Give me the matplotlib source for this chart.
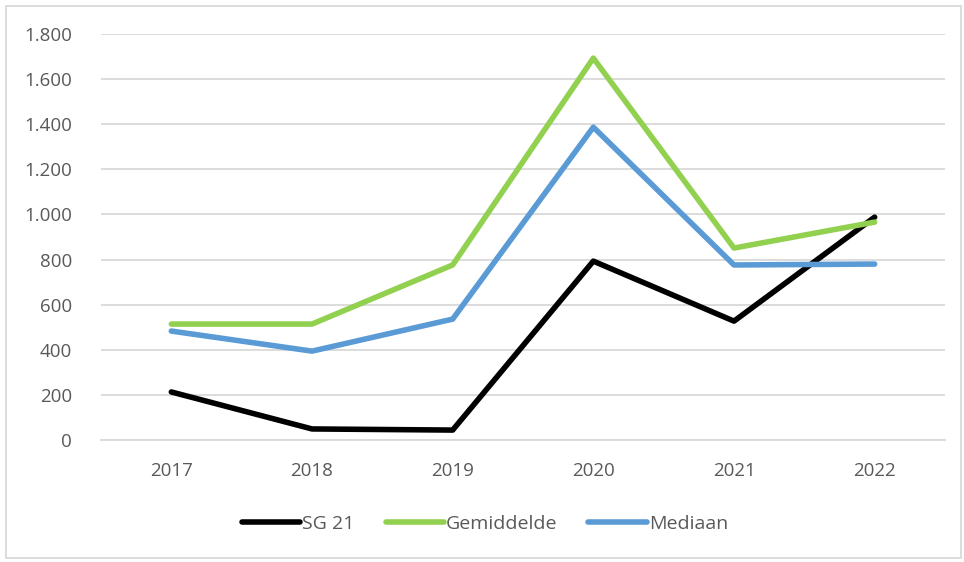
import matplotlib.pyplot as plt
from matplotlib.patches import Rectangle
from matplotlib.ticker import FuncFormatter

plt.rcParams['font.family'] = ['Open Sans', 'DejaVu Sans']

years = ['2017', '2018', '2019', '2020', '2021', '2022']
sg21 = [213, 49, 44, 793, 527, 988]
gemiddelde = [514, 514, 776, 1693, 851, 966]
mediaan = [483, 394, 536, 1387, 776, 780]

fig = plt.figure(figsize=(9.64, 5.62), dpi=100)
ax = fig.add_axes([101 / 964, 1 - 440 / 562, 844 / 964, 406 / 562])

x = range(len(years))
ax.plot(x, sg21, color='black', lw=4, solid_capstyle='round', label='SG 21')
ax.plot(x, gemiddelde, color='#92d050', lw=4, solid_capstyle='round', label='Gemiddelde')
ax.plot(x, mediaan, color='#5b9bd5', lw=4, solid_capstyle='round', label='Mediaan')

ax.set_xlim(-0.5, len(years) - 0.5)
ax.set_ylim(0, 1800)
ax.set_yticks(range(0, 1801, 200))
ax.yaxis.set_major_formatter(FuncFormatter(lambda v, p: f'{int(v):,}'.replace(',', '.')))
ax.set_xticks(list(x))
ax.set_xticklabels(years)
ax.grid(axis='y', color='#d9d9d9', lw=1.3)
ax.set_axisbelow(True)
for s in ax.spines.values():
    s.set_visible(False)
ax.spines['bottom'].set_visible(True)
ax.spines['bottom'].set_color('#d9d9d9')
ax.spines['bottom'].set_linewidth(1.3)
ax.tick_params(length=0, labelsize=13.5, labelcolor='#595959')
ax.tick_params(axis='y', pad=21)
ax.tick_params(axis='x', pad=16)

fig.legend(loc='center', bbox_to_anchor=(0.503, 1 - 524 / 562), ncol=3, frameon=False,
           fontsize=14, handlelength=3.0, handletextpad=0.1, columnspacing=1.6,
           labelcolor='#595959')

fig.patches.append(Rectangle((6 / 964, 4 / 562), 955 / 964, 552 / 562, transform=fig.transFigure,
                             fill=False, edgecolor='#d9d9d9', lw=1.3))

fig.savefig('out.png', dpi=100)
